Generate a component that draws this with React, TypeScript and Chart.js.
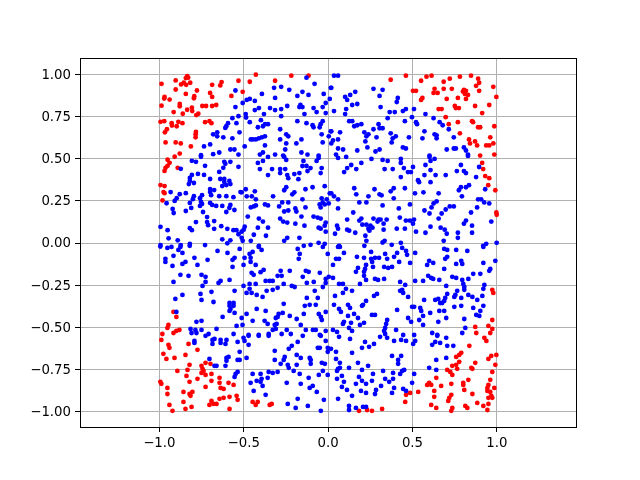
import React, { useEffect, useRef } from "react";
import { Chart, registerables } from "chart.js";

Chart.register(...registerables);

const xTickValues = [-1, -0.5, 0, 0.5, 1];
const yTickValues = [-1, -0.75, -0.5, -0.25, 0, 0.25, 0.5, 0.75, 1];

const redPoints: number[][] = [
[-.987,.945],[-.903,.965],[-.835,.991],[-.843,.979],[-.829,.981],[-.855,.951],[-.871,.941],[-.841,.939],[-.817,.951],[-.903,.911],[-.777,.905],[-.843,.885],[-.793,.871],[-.795,.859],[-.969,.867],[-.971,.857],[-.939,.851],[-.987,.815],[-.879,.825],[-.879,.811],[-.915,.777],[-.835,.791],[-.807,.803],[-.805,.783],[-.861,.767],[-.769,.767],[-.781,.759],[-.745,.813],[-.723,.813],[-.687,.813],[-.663,.819],[-.687,.939],[-.631,.955],[-.639,.935],[-.531,.963],[-.699,.891],[-.687,.867],[-.573,.873],
[-.993,.719],[-.971,.723],[-.927,.711],[-.925,.697],[-.887,.719],[-.863,.711],[-.897,.693],[-.955,.675],[-.967,.657],[-.783,.659],[-.785,.645],[-.785,.627],[-.729,.717],[-.703,.723],[-.691,.711],[-.963,.597],[-.903,.597],[-.873,.591],[-.813,.573],[-.879,.531],
[-.428,.999],[-.464,.957],[-.314,.963],[-.218,.993],[-.116,.993],[-.506,.897],
[.371,.969],[.461,.993],[.551,.963],[.503,.903],[.521,.903],[.551,.849],
[.583,.987],[.613,.993],[.685,.957],[.721,.975],[.781,.987],[.847,.993],[.889,.975],[.895,.951],[.877,.933],[.979,.927],[.631,.915],[.685,.915],[.733,.915],[.805,.909],[.817,.903],[.799,.899],[.895,.903],[.625,.891],[.649,.891],[.811,.885],[.829,.879],[.997,.867],[.769,.861],[.817,.855],[.703,.855],[.559,.861],[.751,.813],[.757,.801],[.775,.801],[.871,.813],[.955,.819],[.655,.795],[.673,.795],[.913,.771],[.697,.747],[.853,.723],[.859,.717],[.769,.717],[.715,.705],[.889,.687],[.901,.687],[.985,.693],[.781,.651],[.961,.627],[.835,.615],[.841,.591],[.871,.603],[.883,.579],[.937,.579],[.955,.579],[.979,.591],[.901,.519],[.985,.525],
[-.909,.512],[-.951,.494],[-.939,.476],[-.951,.458],[-.963,.446],[-.969,.428],[-.891,.446],[-.993,.344],[-.969,.338],[-.975,.302],[-.969,.296],[-.981,.253],
[.913,.475],[.919,.439],[.931,.397],[.955,.385],[.949,.343],[.991,.313],[.997,.181],[.999,.167],
[-.916,-.409],[-.899,-.439],[-.946,-.486],[-.952,-.504],[-.881,-.516],[-.899,-.522],[-.916,-.534],[-.982,-.54],
[.973,-.278],[.979,-.296],[.973,-.457],[.872,-.498],[.95,-.492],[.973,-.51],[.878,-.534],[.961,-.534],
[-.988,-.575],[-.946,-.604],[-.94,-.622],[-.827,-.599],[-.774,-.634],[-.976,-.658],[-.958,-.688],[-.91,-.682],[-.845,-.664],[-.821,-.723],[-.75,-.729],[-.726,-.711],[-.697,-.717],[-.744,-.747],[-.738,-.759],[-.893,-.759],[-.833,-.753],[-.75,-.771],[-.726,-.783],[-.691,-.777],[-.839,-.789],[-.774,-.806],[-.821,-.824],[-.691,-.818],[-.643,-.8],[-.643,-.83],[-.59,-.83],[-.56,-.842],[-.994,-.824],[-.988,-.836],[-.952,-.86],[-.952,-.896],[-.726,-.854],[-.637,-.86],[-.619,-.866],[-.857,-.884],[-.821,-.896],[-.804,-.884],[-.815,-.907],[-.643,-.925],[-.619,-.919],[-.584,-.913],[-.542,-.907],[-.536,-.931],[-.691,-.937],[-.857,-.943],[-.703,-.961],[-.679,-.955],[-.661,-.955],[-.94,-.961],[-.809,-.973],[-.845,-.985],[-.922,-.996],[-.584,-.985],[-.447,-.943],[-.417,-.943],[-.429,-.961],[-.346,-.961],[-.334,-.955],
[.926,-.563],[.938,-.581],[.837,-.61],[.789,-.652],[.777,-.664],[.759,-.676],[.95,-.688],[.967,-.67],[.997,-.664],[.777,-.705],[.872,-.711],[.991,-.723],[.759,-.723],[.736,-.729],[.765,-.747],[.706,-.753],[.724,-.765],[.736,-.783],[.849,-.741],[.855,-.747],[.973,-.765],[.641,-.8],[.961,-.812],[.831,-.812],[.599,-.83],[.587,-.842],[.611,-.842],[.67,-.848],[.73,-.836],[.801,-.83],[.801,-.842],[.95,-.842],[.944,-.86],[.807,-.872],[.944,-.878],[.961,-.884],[.985,-.86],[.629,-.878],[.534,-.884],[.486,-.89],[.462,-.901],[.855,-.896],[.73,-.901],[.718,-.919],[.712,-.937],[.629,-.913],[.95,-.919],[.967,-.907],[.973,-.919],[.457,-.943],[.884,-.949],[.95,-.955],[.611,-.961],[.641,-.979],[.736,-.979],[.73,-.996],[.813,-.967],[.825,-.979],[.92,-.967],[.944,-.991],[.183,-.996],[.231,-.991],[.26,-.996],[.32,-.985],
];

const bluePoints: number[][] = [
[-.549,.905],[-.549,.807],[-.531,.753],[-.567,.741],[-.543,.711],[-.593,.711],[-.603,.693],[-.609,.683],[-.657,.657],[-.681,.645],[-.657,.633],[-.621,.627],[-.567,.621],[-.525,.657],[-.699,.585],[-.735,.573],[-.579,.555],[-.555,.555],[-.645,.537],[-.681,.527],[-.753,.521],[-.531,.525],
[-.128,.981],[-.08,.945],[-.32,.921],[-.278,.927],[-.23,.909],[-.152,.897],[-.182,.873],[-.116,.879],[-.026,.885],[.016,.921],[-.392,.885],[-.314,.861],[.01,.855],[-.434,.843],[-.464,.855],[-.482,.849],[-.506,.831],[-.164,.819],[-.152,.807],[-.17,.807],[-.242,.813],[-.278,.795],[-.344,.801],[-.314,.789],[-.41,.801],[-.434,.789],[-.38,.765],[-.488,.765],[-.486,.745],[-.278,.753],[-.14,.765],[-.086,.801],[-.068,.777],[-.032,.807],[-.014,.831],[-.014,.771],[-.398,.729],[-.464,.717],[-.374,.705],[-.356,.705],[-.386,.693],[-.416,.687],[-.182,.723],[-.128,.711],[-.092,.699],[-.086,.687],[-.032,.723],[-.044,.705],[-.05,.687],[-.284,.675],[-.248,.645],[-.236,.633],[-.038,.645],[.004,.633],[.016,.663],[-.284,.615],[-.374,.633],[-.392,.627],[-.41,.621],[-.428,.615],[-.458,.615],[-.446,.615],[-.158,.615],[-.188,.591],[-.248,.591],[-.032,.597],[-.374,.579],[-.494,.573],[-.254,.555],[-.386,.537],[-.404,.525],[-.314,.525],[-.266,.519],[-.158,.537],[-.122,.525],[-.056,.519],
[.035,.993],[.059,.993],[.019,.921],[.269,.915],[.323,.909],[.161,.897],[.131,.879],[.101,.867],[.113,.849],[.305,.873],[.413,.861],[.407,.837],[.173,.825],[.143,.819],[.311,.807],[.107,.795],[.035,.783],[.101,.765],[.365,.777],[.395,.777],[.443,.783],[.461,.795],[.509,.795],[.497,.747],[.353,.741],[.455,.723],[.521,.717],[.527,.705],[.125,.723],[.143,.723],[.197,.705],[.173,.699],[.155,.693],[.299,.705],[.269,.675],[.305,.681],[.323,.681],[.215,.657],[.239,.645],[.227,.633],[.019,.663],[.071,.657],[.371,.651],[.401,.633],[.383,.621],[.287,.627],[.479,.627],[.059,.615],[.029,.609],[.221,.603],[.377,.597],[.019,.591],[.233,.567],[.443,.567],[.461,.561],[.059,.561],[.089,.555],[.173,.549],[.305,.555],[.281,.543],[.047,.525],
[.577,.765],[.625,.741],[.661,.717],[.679,.699],[.715,.675],[.571,.663],[.631,.645],[.643,.639],[.643,.621],[.745,.627],[.559,.621],[.805,.567],[.817,.549],[.703,.555],[.745,.561],[.757,.561],[.829,.525],[.601,.519],
[-.753,.512],[-.807,.488],[-.783,.482],[-.729,.458],[-.615,.482],[-.609,.47],[-.579,.482],[-.531,.452],[-.621,.446],[-.645,.422],[-.873,.44],[-.771,.41],[-.735,.404],[-.807,.404],[-.819,.386],[-.699,.38],[-.639,.38],[-.615,.38],[-.819,.368],[-.795,.356],[-.825,.35],[-.615,.362],[-.585,.368],[-.579,.35],[-.603,.344],[-.627,.338],[-.699,.32],[-.675,.314],[-.933,.302],[-.843,.296],[-.879,.29],[-.699,.302],[-.693,.284],[-.747,.284],[-.795,.278],[-.645,.278],[-.603,.278],[-.561,.272],[-.519,.302],[-.897,.266],[-.909,.25],[-.957,.236],[-.801,.26],[-.759,.266],[-.753,.244],[-.819,.238],[-.747,.232],[-.699,.238],[-.687,.226],[-.663,.22],[-.627,.22],[-.579,.226],[-.585,.208],[-.811,.208],[-.759,.22],[-.921,.202],[-.915,.178],[-.843,.19],[-.741,.184],[-.555,.196],[-.603,.184],[-.717,.154],[-.783,.124],[-.717,.124],[-.675,.13],[-.711,.106],[-.675,.084],[-.633,.1],[-.993,.096],[-.951,.076],[-.819,.088],[-.807,.076],[-.597,.084],[-.561,.076],[-.543,.076],[-.531,.052],[-.945,.028],[-.891,.016],[-.627,.022],[-.579,.016],[-.597,-.002],[-.993,-.012],[-.873,-.012],[-.819,-.006],[-.729,-.012],
[-.416,.475],[-.386,.487],[-.356,.511],[-.26,.511],[-.248,.493],[-.146,.487],[-.068,.487],[-.056,.505],[-.152,.457],[-.128,.457],[-.104,.445],[-.038,.445],[-.404,.439],[-.332,.439],[-.284,.439],[-.254,.439],[-.122,.427],[-.17,.415],[-.284,.415],[-.044,.415],[-.356,.403],[-.242,.403],[-.2,.409],[-.236,.385],[-.176,.379],[-.092,.331],[-.02,.337],[-.134,.319],[-.248,.331],[-.26,.313],[-.488,.319],[-.512,.301],[-.434,.307],[-.2,.301],[-.212,.289],[.01,.295],[-.326,.277],[-.482,.277],[-.452,.277],[-.428,.259],[-.152,.259],[-.038,.265],[-.032,.241],[-.008,.259],[.004,.235],[-.02,.229],[-.05,.229],[-.044,.211],[-.272,.241],[-.236,.241],[-.374,.229],[-.356,.223],[-.428,.223],[-.44,.217],[-.458,.211],[-.29,.217],[-.134,.211],[-.194,.205],[-.188,.187],[-.236,.193],[-.26,.187],[-.158,.157],[-.476,.157],[-.086,.157],[-.062,.151],[-.044,.145],[-.284,.145],[-.41,.145],[-.386,.127],[-.266,.127],[-.242,.121],[-.194,.115],[-.14,.103],[-.014,.121],[-.02,.103],[-.356,.091],[-.416,.091],[-.056,.091],[-.044,.085],[-.494,.097],[-.5,.079],[-.512,.067],[-.44,.049],[-.368,.043],[-.512,.031],[-.506,.013],[-.458,.013],[-.242,.031],[-.26,.013],[-.17,.031],[-.014,.067],[-.104,-.011],[-.056,.001],[-.02,-.005],[-.41,-.017],
[.059,.505],[.107,.511],[.257,.499],[.323,.493],[.353,.487],[.431,.499],[.431,.475],[.197,.475],[.137,.463],[.113,.445],[.095,.421],[.167,.439],[.335,.439],[.383,.439],[.449,.445],[.473,.421],[.491,.421],[.503,.451],[.431,.391],[.533,.373],[.539,.361],[.155,.325],[.275,.319],[.389,.325],[.371,.307],[.455,.325],[.515,.295],[.167,.289],[.305,.289],[.317,.283],[.239,.277],[.035,.277],[.059,.259],[.019,.295],[.389,.265],[.185,.241],[.227,.241],[.323,.223],[.485,.229],[.059,.205],[.419,.205],[.149,.181],[.113,.139],[.197,.145],[.185,.133],[.269,.145],[.299,.139],[.311,.139],[.293,.127],[.347,.139],[.425,.151],[.461,.133],[.485,.133],[.509,.139],[.329,.115],[.503,.115],[.203,.109],[.227,.109],[.251,.103],[.263,.091],[.239,.085],[.245,.073],[.053,.103],[.059,.085],[.113,.079],[.125,.073],[.161,.061],[.041,.055],[.329,.079],[.407,.085],[.455,.085],[.521,.067],[.221,.043],[.227,.013],[.335,.013],[.323,.003],[.377,-.011],[.431,.001],[.215,-.017],[.065,-.017],
[.607,.487],[.631,.499],[.601,.511],[.577,.463],[.787,.463],[.829,.517],[.895,.451],[.607,.433],[.763,.427],[.805,.427],[.817,.415],[.571,.403],[.637,.403],[.697,.403],[.877,.391],[.607,.361],[.835,.343],[.817,.331],[.787,.331],[.775,.313],[.931,.319],[.565,.301],[.655,.295],[.793,.277],[.889,.259],[.907,.259],[.925,.241],[.955,.235],[.643,.247],[.625,.235],[.613,.211],[.721,.217],[.745,.217],[.697,.199],[.883,.211],[.571,.193],[.601,.175],[.673,.175],[.847,.181],[.655,.145],[.817,.133],[.805,.115],[.967,.127],[.853,.103],[.607,.097],[.667,.091],[.691,.079],[.703,.055],[.769,.061],[.853,.061],[.577,.061],[.769,.031],[.685,.013],[.937,-.005],[.999,.001],[.919,-.017],
[-.994,-.021],[-.952,-.029],[-.928,-.023],[-.887,-.041],[-.875,-.023],[-.82,-.017],[-.863,-.059],[-.916,-.076],[-.964,-.094],[-.964,-.112],[-.845,-.112],[-.863,-.124],[-.922,-.136],[-.774,-.13],[-.792,-.088],[-.714,-.1],[-.655,-.047],[-.596,-.059],[-.524,-.035],[-.554,-.088],[-.566,-.1],[-.447,-.053],[-.465,-.065],[-.411,-.023],[-.394,-.041],[-.459,-.088],[-.495,-.088],[-.501,-.13],[-.459,-.112],[-.429,-.13],[-.566,-.142],[-.18,-.035],[-.168,-.065],[-.174,-.094],[-.144,-.017],[-.031,-.023],[-.002,-.065],[-.382,-.16],[-.4,-.173],[-.875,-.189],[-.827,-.195],[-.75,-.189],[-.726,-.201],[-.726,-.231],[-.744,-.255],[-.916,-.231],[-.584,-.219],[-.637,-.225],[-.649,-.237],[-.453,-.177],[-.441,-.189],[-.281,-.165],[-.227,-.165],[-.299,-.195],[-.275,-.195],[-.132,-.165],[-.115,-.171],[-.049,-.177],[-.15,-.201],[-.37,-.225],[-.346,-.225],[-.328,-.225],[-.465,-.243],[-.429,-.243],[-.501,-.255],[-.263,-.243],[-.126,-.237],[-.085,-.231],[-.014,-.213],[.004,-.201],[-.014,-.237],[-.031,-.261],[-.215,-.255],[-.198,-.261],[-.554,-.284],[-.691,-.29],[-.756,-.302],[-.863,-.308],[-.905,-.332],[-.75,-.338],[-.679,-.35],[-.465,-.272],[-.483,-.296],[-.453,-.296],[-.364,-.284],[-.328,-.278],[-.299,-.266],[-.423,-.308],[-.388,-.32],[-.079,-.284],[-.061,-.326],[-.126,-.326],[-.263,-.361],[-.138,-.373],[-.109,-.367],[-.073,-.367],[-.584,-.356],[-.56,-.356],[-.584,-.373],[-.56,-.373],[-.578,-.391],[-.584,-.403],[-.554,-.415],[-.423,-.391],[-.37,-.403],[-.899,-.409],[-.483,-.421],[-.512,-.445],[-.625,-.439],[-.269,-.415],[-.293,-.421],[-.299,-.439],[-.31,-.445],[-.227,-.433],[-.186,-.451],[-.144,-.421],[-.055,-.421],[-.043,-.439],[-.037,-.457],[-.014,-.409],[-.376,-.462],[-.358,-.48],[-.447,-.462],[-.305,-.48],[-.316,-.486],[-.78,-.468],[-.75,-.462],[-.542,-.492],[-.507,-.486],[-.162,-.486],[-.815,-.51],[-.809,-.534],[-.786,-.516],[-.78,-.534],[-.75,-.516],[-.661,-.51],[-.708,-.54],[-.56,-.54],[-.471,-.546],[-.411,-.546],[-.352,-.54],[-.328,-.516],[-.31,-.51],[-.275,-.54],[-.245,-.516],[-.221,-.54],[-.132,-.516],[-.09,-.516],[-.073,-.516],[-.049,-.546],[-.014,-.522],
[.029,-.13],[.059,-.023],[.07,-.023],[.094,-.059],[.047,-.094],[.065,-.094],[.171,-.082],[.213,-.088],[.255,-.053],[.255,-.094],[.278,-.088],[.302,-.088],[.261,-.112],[.266,-.142],[.338,-.065],[.35,-.094],[.391,-.082],[.409,-.059],[.439,-.029],[.462,-.047],[.468,-.07],[.421,-.112],[.486,-.118],[.516,-.059],[.332,-.142],[.356,-.148],[.379,-.142],[.225,-.13],[.219,-.154],[.177,-.148],[.165,-.171],[.213,-.171],[.213,-.195],[.225,-.219],[.029,-.207],[.278,-.213],[.296,-.219],[.332,-.213],[.065,-.243],[.088,-.243],[.189,-.243],[.427,-.231],[.457,-.249],[.516,-.225],[.563,-.225],[.599,-.106],[.587,-.13],[.623,-.118],[.688,-.035],[.706,-.041],[.759,-.041],[.825,-.047],[.92,-.023],[.706,-.082],[.694,-.094],[.789,-.106],[.759,-.124],[.795,-.124],[.92,-.118],[.991,-.106],[.688,-.154],[.961,-.154],[.955,-.165],[.86,-.183],[.902,-.183],[.593,-.195],[.611,-.207],[.623,-.213],[.659,-.219],[.736,-.201],[.759,-.207],[.795,-.219],[.831,-.213],[.801,-.243],[.807,-.261],[.807,-.278],[.7,-.255],[.926,-.249],[.92,-.272],[.106,-.272],[.088,-.296],[.142,-.284],[.041,-.314],[.272,-.314],[.29,-.302],[.427,-.284],[.439,-.278],[.445,-.296],[.474,-.32],[.765,-.284],[.754,-.308],[.748,-.32],[.706,-.302],[.569,-.338],[.635,-.338],[.653,-.332],[.694,-.326],[.688,-.344],[.676,-.356],[.664,-.356],[.831,-.308],[.855,-.32],[.789,-.326],[.914,-.314],[.884,-.338],[.225,-.344],[.035,-.367],[.118,-.367],[.13,-.385],[.207,-.367],[.201,-.373],[.498,-.379],[.51,-.379],[.546,-.385],[.552,-.403],[.409,-.397],[.748,-.379],[.789,-.373],[.86,-.385],[.92,-.373],[.659,-.403],[.688,-.403],[.902,-.403],[.605,-.415],[.563,-.433],[.065,-.391],[.076,-.409],[.154,-.421],[.118,-.433],[.177,-.445],[.26,-.427],[.278,-.427],[.878,-.427],[.896,-.433],[.474,-.445],[.7,-.445],[.807,-.451],[.54,-.457],[.492,-.468],[.653,-.468],[.094,-.468],[.088,-.48],[.136,-.474],[.213,-.474],[.189,-.486],[.35,-.457],[.344,-.48],[.563,-.486],[.124,-.504],[.142,-.522],[.029,-.516],[.053,-.528],[.338,-.504],[.332,-.522],[.338,-.54],[.403,-.516],[.445,-.546],[.51,-.546],[.617,-.534],[.647,-.546],[.813,-.504],[.795,-.534],
[-.726,-.551],[-.792,-.581],[-.792,-.593],[-.685,-.599],[-.673,-.569],[-.685,-.575],[-.637,-.575],[-.637,-.593],[-.602,-.575],[-.608,-.599],[-.536,-.587],[-.501,-.563],[-.495,-.581],[-.471,-.604],[-.471,-.551],[-.411,-.551],[-.352,-.551],[-.316,-.64],[-.524,-.646],[-.233,-.628],[-.215,-.61],[-.18,-.587],[-.15,-.551],[-.043,-.551],[-.014,-.581],[-.061,-.622],[-.049,-.622],[-.002,-.622],[-.002,-.646],[-.186,-.664],[-.162,-.682],[-.257,-.676],[-.263,-.694],[-.316,-.694],[-.281,-.717],[-.109,-.682],[-.103,-.694],[-.103,-.717],[-.239,-.723],[-.233,-.741],[-.186,-.723],[-.037,-.711],[-.019,-.717],[-.703,-.688],[-.602,-.682],[-.59,-.676],[-.602,-.699],[-.536,-.694],[-.524,-.694],[-.483,-.682],[-.608,-.729],[-.673,-.729],[-.661,-.729],[-.204,-.759],[-.168,-.777],[-.031,-.759],[-.055,-.783],[-.002,-.783],[-.352,-.765],[-.328,-.771],[-.299,-.765],[-.536,-.765],[-.548,-.777],[-.554,-.795],[-.447,-.777],[-.4,-.777],[-.358,-.8],[-.394,-.806],[-.423,-.818],[-.4,-.824],[-.459,-.83],[-.388,-.848],[-.115,-.8],[-.245,-.83],[-.162,-.836],[-.091,-.848],[-.109,-.86],[-.067,-.884],[-.441,-.878],[-.37,-.901],[-.18,-.925],[-.025,-.931],[-.239,-.955],[-.12,-.967],[-.192,-.979],[-.043,-.996],
[.065,-.557],[.13,-.569],[.219,-.587],[.272,-.599],[.243,-.616],[.201,-.622],[.308,-.557],[.35,-.563],[.391,-.581],[.433,-.575],[.462,-.581],[.516,-.581],[.504,-.599],[.647,-.551],[.7,-.563],[.635,-.587],[.664,-.593],[.617,-.604],[.706,-.61],[.742,-.61],[.017,-.628],[.047,-.646],[.142,-.652],[.379,-.67],[.433,-.67],[.415,-.694],[.415,-.717],[.047,-.688],[.07,-.711],[.177,-.711],[.641,-.694],[.7,-.682],[.07,-.741],[.059,-.747],[.053,-.759],[.124,-.741],[.237,-.729],[.201,-.753],[.599,-.741],[.641,-.753],[.326,-.759],[.385,-.771],[.427,-.777],[.439,-.759],[.451,-.753],[.51,-.777],[.266,-.777],[.082,-.789],[.053,-.806],[.183,-.795],[.094,-.824],[.201,-.818],[.26,-.818],[.225,-.836],[.165,-.836],[.338,-.806],[.362,-.824],[.385,-.806],[.498,-.83],[.082,-.854],[.314,-.848],[.112,-.872],[.195,-.878],[.225,-.89],[.284,-.872],[.278,-.896],[.391,-.86],[.379,-.89],[.445,-.866],[.462,-.878],[.142,-.907],[.059,-.925],[.124,-.967],[.124,-.991],[.165,-.979],[.207,-.973],[.225,-.973],
];

const toXY = (pts: number[][]) => pts.map(([x, y]) => ({ x, y }));

const framePlugin = {
  id: "frame",
  afterDatasetsDraw(chart: any) {
    const { ctx, chartArea: a } = chart;
    ctx.save();
    ctx.strokeStyle = "#000";
    ctx.lineWidth = 1;
    ctx.strokeRect(Math.round(a.left) + 0.5, Math.round(a.top) + 0.5, Math.round(a.right - a.left), Math.round(a.bottom - a.top));
    ctx.restore();
  },
};

export default function App() {
  const ref = useRef<HTMLCanvasElement>(null);
  useEffect(() => {
    const font = { family: "'DejaVu Sans'", size: 13.3 };
    const grid = { color: "#b0b0b0", lineWidth: 1, tickColor: "#000", tickLength: 5 };
    const chart = new Chart(ref.current!, {
      type: "scatter",
      data: {
        datasets: [
          { label: "blue", data: toXY(bluePoints), backgroundColor: "#0000ff", borderColor: "#0000ff", pointRadius: 2.4, pointBorderWidth: 0 },
          { label: "red", data: toXY(redPoints), backgroundColor: "#ff0000", borderColor: "#ff0000", pointRadius: 2.4, pointBorderWidth: 0 },
        ],
      },
      options: {
        responsive: false,
        animation: false,
        layout: { padding: { top: 58, right: 64, left: 0, bottom: 0 } },
        plugins: { legend: { display: false }, tooltip: { enabled: false }, title: { display: false } },
        scales: {
          x: {
            type: "linear",
            min: -1.47,
            max: 1.469,
            grid,
            border: { color: "#000" },
            ticks: { color: "#000", font, maxRotation: 0, padding: 4, autoSkip: false, callback: (v: any) => Number(v).toFixed(1).replace("-", "\u2212") },
            afterBuildTicks: (s: any) => { s.ticks = xTickValues.map((value) => ({ value })); },
            afterFit: (s: any) => { s.height = 53; },
          },
          y: {
            type: "linear",
            min: -1.092,
            max: 1.098,
            grid,
            border: { color: "#000" },
            ticks: { color: "#000", font, padding: 4, labelOffset: 1, autoSkip: false, callback: (v: any) => Number(v).toFixed(2).replace("-", "\u2212") },
            afterBuildTicks: (s: any) => { s.ticks = yTickValues.map((value) => ({ value })); },
            afterFit: (s: any) => { s.width = 80; },
          },
        },
      },
      plugins: [framePlugin],
    } as any);
    return () => chart.destroy();
  }, []);
  return (
    <div style={{ position: "absolute", left: 0, top: 0, width: 640, height: 480, background: "#fff" }}>
      <canvas ref={ref} width={640} height={480} style={{ display: "block", width: 640, height: 480 }} />
    </div>
  );
}
